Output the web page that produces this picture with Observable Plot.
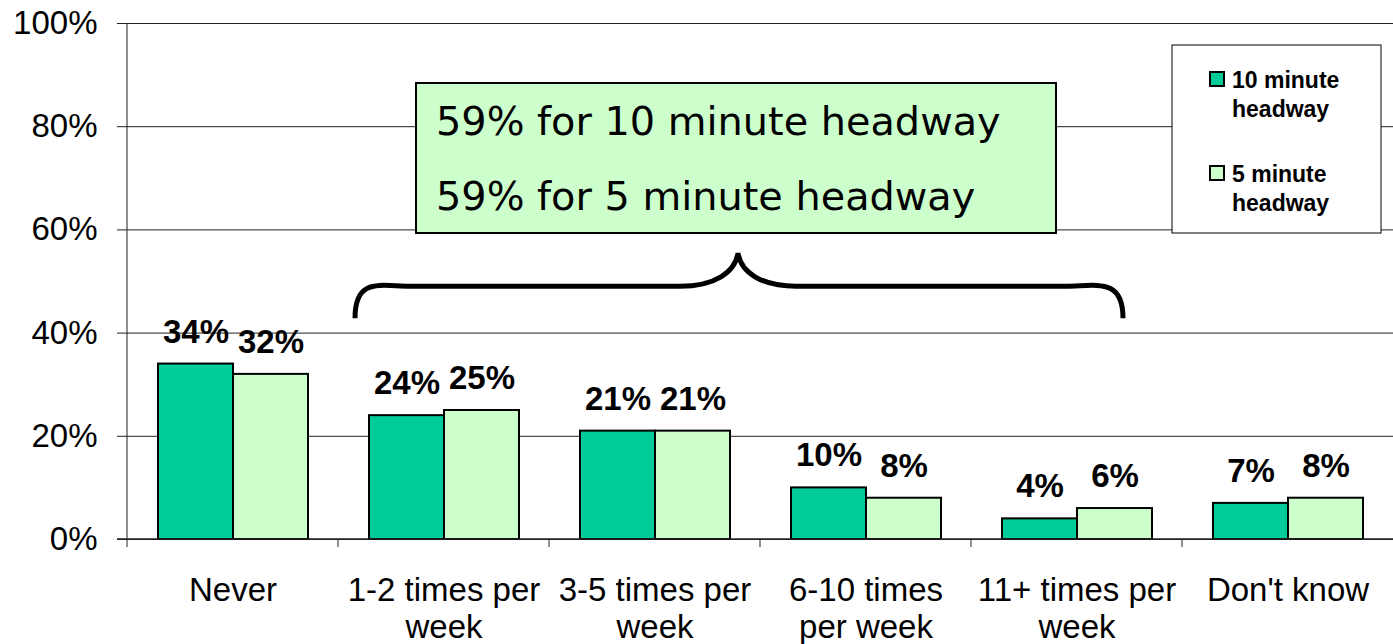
<!DOCTYPE html>
<html><head><meta charset="utf-8">
<script src="https://cdn.jsdelivr.net/npm/d3@7"></script>
<script src="https://cdn.jsdelivr.net/npm/@observablehq/plot@0.6"></script>
<style>body{margin:0;background:#fff} #chart{position:relative;width:1393px;height:644px}</style>
</head><body><div id="chart"></div>
<script>
const categories = ["Never","1-2 times per week","3-5 times per week","6-10 times per week","11+ times per week","Don't know"];
const categoryLabels = ["Never","1-2 times per\nweek","3-5 times per\nweek","6-10 times\nper week","11+ times per\nweek","Don't know"];
const series = ["10 minute headway","5 minute headway"];
const legendLines = [["10 minute","headway"],["5 minute","headway"]];
const tenMinute = [34,24,21,10,4,7];
const fiveMinute = [32,25,21,8,6,8];
const yTicks = [0,20,40,60,80,100];
const annotationLines = ["59% for 10 minute headway","59% for 5 minute headway"];
const colors = ["#00CC99","#CCFFCC"];

const data = categories.flatMap((c,i)=>[
  {category:c, series:series[0], value:tenMinute[i]},
  {category:c, series:series[1], value:fiveMinute[i]}
]);
const labelOf = new Map(categories.map((c,i)=>[c, categoryLabels[i]]));
const FONT = "'Liberation Sans', Arial, sans-serif";

const plot = Plot.plot({
  width:1393, height:644, marginLeft:127, marginRight:0, marginTop:23, marginBottom:105,
  style:{fontFamily:FONT, background:"white", overflow:"visible", color:"black"},
  fx:{domain:categories, padding:0, label:null},
  x:{domain:series, paddingInner:0, paddingOuter:0.39, axis:null},
  y:{domain:[0,100], label:null},
  color:{domain:series, range:colors},
  marks:[
    Plot.gridY(yTicks, {stroke:"#222", strokeOpacity:1, strokeWidth:1}),
    Plot.axisY(yTicks, {tickFormat:d=>d+"%", tickSize:10, tickPadding:20, fontSize:33, stroke:"#222", label:null}),
    Plot.axisFx({anchor:"bottom", tickFormat:d=>labelOf.get(d), tickSize:0, tickPadding:35, fontSize:33, lineHeight:1.13, label:null}),
    Plot.barY(data, {fx:"category", x:"series", y:"value", fill:"series", stroke:"black", strokeWidth:2}),
    Plot.text(data, {fx:"category", x:"series", y:"value", text:d=>d.value+"%", dy:-32, fontSize:33, fontWeight:"bold"})
  ]
});
document.getElementById("chart").appendChild(plot);

const svg = d3.select(plot);
const fx = plot.scale("fx"), y = plot.scale("y");
const Y = v => y.apply(v);
const left = fx.apply(categories[0]);
const g = svg.append("g").attr("text-anchor","start");

// y axis line and category boundary ticks
g.append("line").attr("x1",left).attr("x2",left).attr("y1",Y(100)).attr("y2",Y(0)+8).attr("stroke","#222");
g.append("line").attr("x1",left-10).attr("x2",1393).attr("y1",Y(0)).attr("y2",Y(0)).attr("stroke","#222").attr("stroke-width",1.5);
categories.slice(1).forEach(c=>{
  const x = fx.apply(c);
  g.append("line").attr("x1",x).attr("x2",x).attr("y1",Y(0)).attr("y2",Y(0)+8).attr("stroke","#222");
});

// brace
const bl = 355, br = 1123, tip = 738;
const yEnd = Y(42.8), yMid = Y(49), yTip = Y(55.4);
g.append("path")
  .attr("d",`M${bl},${yEnd} C${bl},${yMid-9} ${bl+25},${yMid} ${bl+55},${yMid} L${tip-58},${yMid} C${tip-23},${yMid} ${tip-3},${yMid-14} ${tip},${yTip} C${tip+3},${yMid-14} ${tip+23},${yMid} ${tip+58},${yMid} L${br-57},${yMid} C${br-27},${yMid} ${br},${yMid-9} ${br},${yEnd}`)
  .attr("fill","none").attr("stroke","black").attr("stroke-width",5).attr("stroke-linecap","butt");

// annotation box
g.append("rect").attr("x",416).attr("y",83).attr("width",640).attr("height",150)
  .attr("fill","#CCFFCC").attr("stroke","black").attr("stroke-width",2);
annotationLines.forEach((t,i)=>{
  g.append("text").attr("x",436).attr("y",i===0?135:210).text(t)
   .attr("text-anchor","start")
   .attr("font-family","'DejaVu Sans', sans-serif").attr("font-size",39.8).attr("fill","black");
});

// legend
g.append("rect").attr("x",1172).attr("y",45).attr("width",209).attr("height",188)
  .attr("fill","white").attr("stroke","black").attr("stroke-width",1);
series.forEach((s,i)=>{
  const top = i===0 ? 72 : 166;
  g.append("rect").attr("x",1210).attr("y",top).attr("width",14).attr("height",14)
   .attr("fill",colors[i]).attr("stroke","black").attr("stroke-width",2);
  legendLines[i].forEach((t,j)=>{
    g.append("text").attr("x",1232).attr("y",top+16+j*29).text(t)
     .attr("text-anchor","start")
     .attr("font-family",FONT).attr("font-weight","bold").attr("font-size",23).attr("fill","black");
  });
});
</script>
</body></html>
